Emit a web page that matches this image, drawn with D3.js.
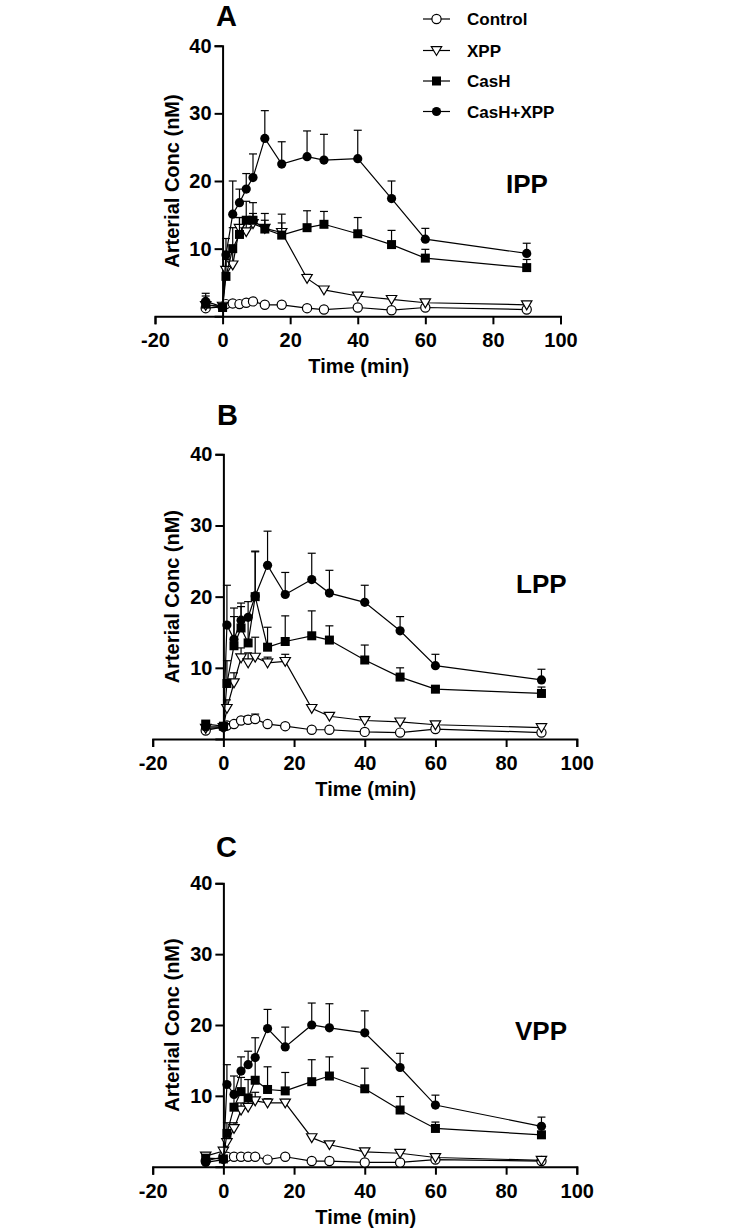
<!DOCTYPE html>
<html>
<head>
<meta charset="utf-8">
<script src="https://cdn.jsdelivr.net/npm/d3@7"></script>
<style>
  html, body { margin: 0; padding: 0; background: #fff; }
  svg text { font-family: "Liberation Sans", Arial, sans-serif; font-weight: bold; fill: #000; }
</style>
</head>
<body>
<svg id="chart" width="733" height="1230"></svg>
<script>
// ---------------- DATA ----------------
const times = [-5, 0, 1, 3, 5, 7, 9, 12.5, 17.5, 25, 30, 40, 50, 60, 90];
const seriesNames = ["Control", "XPP", "CasH", "CasH+XPP"];
const panelLetters = ["A", "B", "C"];
const regionNames = ["IPP", "LPP", "VPP"];
const xTicks = [-20, 0, 20, 40, 60, 80, 100];
const yTicks = [10, 20, 30, 40];

// IPP (panel A)
const ippControl    = [1.2, 1.4, 1.8, 1.9, 1.8, 2.0, 2.2, 1.7, 1.7, 1.2, 1.0, 1.3, 0.9, 1.3, 1.0];
const ippControlSE  = [0.3, 0.2, 0.2, 0.2, 0.2, 0.2, 0.3, 0.2, 0.2, 0.2, 0.2, 0.2, 0.2, 0.2, 0.2];
const ippXPP        = [1.6, 1.5, 6.8, 7.6, 13.0, 12.5, 13.7, 13.0, 12.4, 5.6, 3.9, 3.0, 2.5, 2.0, 1.7];
const ippXPPSE      = [0.4, 0.3, 1.8, 2.0, 1.6, 2.0, 1.5, 1.2, 1.4, 0.6, 0.4, 0.3, 0.3, 0.3, 0.3];
const ippCasH       = [1.8, 1.3, 5.9, 10.0, 12.1, 14.2, 14.2, 12.9, 12.0, 13.1, 13.6, 12.2, 10.6, 8.6, 7.2];
const ippCasHSE     = [1.2, 0.3, 2.5, 3.1, 2.5, 2.8, 2.6, 2.3, 3.1, 2.5, 1.9, 2.4, 2.1, 1.3, 1.2];
const ippCasHXPP    = [2.2, 1.4, 9.1, 15.1, 16.8, 18.8, 20.5, 26.3, 22.5, 23.6, 23.1, 23.3, 17.4, 11.4, 9.3];
const ippCasHXPPSE  = [1.2, 0.3, 2.4, 4.9, 2.0, 2.3, 3.5, 4.1, 3.3, 3.8, 3.8, 4.2, 2.6, 1.6, 1.5];

// LPP (panel B)
const lppControl    = [1.2, 1.7, 1.9, 2.1, 2.6, 2.7, 2.8, 2.1, 1.8, 1.3, 1.3, 1.0, 0.9, 1.4, 0.9];
const lppControlSE  = [0.2, 0.2, 0.2, 0.3, 0.4, 0.5, 0.7, 0.3, 0.2, 0.2, 0.2, 0.2, 0.2, 0.2, 0.2];
const lppXPP        = [1.5, 1.6, 4.3, 7.9, 11.4, 10.7, 11.5, 10.7, 10.9, 4.3, 3.2, 2.6, 2.4, 2.0, 1.6];
const lppXPPSE      = [0.3, 0.3, 1.2, 1.4, 1.4, 1.4, 2.8, 0.8, 1.0, 0.4, 0.3, 0.3, 0.3, 0.3, 0.3];
const lppCasH       = [2.1, 1.8, 7.8, 13.1, 15.6, 13.5, 20.0, 12.9, 13.7, 14.5, 13.9, 11.1, 8.7, 7.0, 6.4];
const lppCasHSE     = [0.3, 0.3, 3.2, 4.1, 3.0, 3.3, 6.3, 2.8, 3.6, 3.5, 2.0, 2.1, 1.3, 0.3, 0.9];
const lppCasHXPP    = [1.7, 1.7, 16.0, 14.0, 16.7, 17.1, 20.1, 24.4, 20.3, 22.4, 20.5, 19.2, 15.2, 10.3, 8.3];
const lppCasHXPPSE  = [0.3, 0.3, 5.6, 4.4, 2.4, 2.2, 6.3, 4.8, 3.1, 3.7, 3.2, 2.4, 2.0, 1.6, 1.5];

// VPP (panel C)
const vppControl    = [0.8, 1.4, 1.4, 1.4, 1.4, 1.4, 1.4, 1.0, 1.4, 0.8, 0.8, 0.6, 0.6, 1.0, 0.8];
const vppControlSE  = [0.2, 0.2, 0.2, 0.2, 0.2, 0.2, 0.2, 0.2, 0.2, 0.2, 0.2, 0.2, 0.2, 0.2, 0.2];
const vppXPP        = [1.5, 2.2, 3.4, 5.4, 8.0, 8.4, 9.3, 9.0, 9.0, 4.1, 3.1, 2.1, 1.9, 1.3, 0.9];
const vppXPPSE      = [0.3, 0.4, 0.6, 0.8, 1.0, 1.0, 1.2, 0.6, 0.5, 0.4, 0.3, 0.3, 0.3, 0.3, 0.2];
const vppCasH       = [1.2, 1.1, 4.7, 8.4, 10.6, 9.7, 12.2, 10.9, 10.7, 12.0, 12.8, 11.0, 8.0, 5.4, 4.5];
const vppCasHSE     = [0.3, 0.3, 1.5, 2.1, 2.0, 2.6, 3.2, 3.2, 2.6, 3.1, 2.7, 2.9, 1.9, 0.9, 0.3];
const vppCasHXPP    = [0.6, 1.0, 11.6, 10.2, 13.5, 14.4, 15.4, 19.5, 16.9, 20.0, 19.6, 18.9, 14.0, 8.7, 5.7];
const vppCasHXPPSE  = [0.2, 0.2, 2.8, 2.6, 2.0, 1.9, 2.8, 2.7, 2.8, 3.1, 3.4, 3.1, 2.0, 1.4, 1.3];

// ---------------- LAYOUT ----------------
const panelData = [
  { means: [ippControl, ippXPP, ippCasH, ippCasHXPP], errs: [ippControlSE, ippXPPSE, ippCasHSE, ippCasHXPPSE] },
  { means: [lppControl, lppXPP, lppCasH, lppCasHXPP], errs: [lppControlSE, lppXPPSE, lppCasHSE, lppCasHXPPSE] },
  { means: [vppControl, vppXPP, vppCasH, vppCasHXPP], errs: [vppControlSE, vppXPPSE, vppCasHSE, vppCasHXPPSE] }
];
const panelLayout = [
  { x0: 155, x1: 560.5, yBot: 316.3, yTop: 45.7, letterX: 216, letterY: 26, regX: 506, regY: 193 },
  { x0: 152.7, x1: 576.8, yBot: 739, yTop: 454.3, letterX: 217, letterY: 425, regX: 516, regY: 593 },
  { x0: 152.7, x1: 576.8, yBot: 1166.7, yTop: 883.3, letterX: 216, letterY: 857, regX: 515, regY: 1040 }
];

const svg = d3.select("#chart");

function drawMarker(g, type, cx, cy) {
  if (type === 0) {
    g.append("circle").attr("cx", cx).attr("cy", cy).attr("r", 4.6)
      .attr("fill", "#fff").attr("stroke", "#000").attr("stroke-width", 1.2);
  } else if (type === 1) {
    const s = 5.2;
    g.append("path")
      .attr("d", `M${cx - s},${cy - s * 0.75} L${cx + s},${cy - s * 0.75} L${cx},${cy + s * 0.95} Z`)
      .attr("fill", "#fff").attr("stroke", "#000").attr("stroke-width", 1.2);
  } else if (type === 2) {
    g.append("rect").attr("x", cx - 4.5).attr("y", cy - 4.5).attr("width", 9).attr("height", 9)
      .attr("fill", "#000");
  } else {
    g.append("circle").attr("cx", cx).attr("cy", cy).attr("r", 4.6).attr("fill", "#000");
  }
}

panelData.forEach((pd, pi) => {
  const L = panelLayout[pi];
  const x = d3.scaleLinear().domain([-20, 100]).range([L.x0, L.x1]);
  const y = d3.scaleLinear().domain([0, 40]).range([L.yBot, L.yTop]);
  const g = svg.append("g");

  // axes
  const xAxis = g.append("g").attr("transform", `translate(0,${y(0)})`)
    .call(d3.axisBottom(x).tickValues(xTicks).tickFormat(d => String(d))
      .tickSizeOuter(0).tickSize(8).tickPadding(4));
  const yAxis = g.append("g").attr("transform", `translate(${x(0)},0)`)
    .call(d3.axisLeft(y).tickValues(yTicks).tickFormat(d => String(d))
      .tickSizeOuter(0).tickSize(8).tickPadding(3));
  [xAxis, yAxis].forEach(a => {
    a.select(".domain").attr("stroke", "#000").attr("stroke-width", 2);
    a.selectAll(".tick line").attr("stroke", "#000").attr("stroke-width", 2);
    a.selectAll(".tick text").attr("font-size", 20).attr("fill", "#000")
      .style("font-family", '"Liberation Sans", Arial, sans-serif').style("font-weight", "bold");
  });
  xAxis.selectAll(".tick text").attr("dy", "0.95em");

  // axis titles
  g.append("text").attr("x", (x(-20) + x(100)) / 2 + 1).attr("y", y(0) + 57)
    .attr("text-anchor", "middle").attr("font-size", 20).text("Time (min)");
  g.append("text").attr("transform", `translate(179,${(y(0) + y(40)) / 2}) rotate(-90)`)
    .attr("text-anchor", "middle").attr("font-size", 20).text("Arterial Conc (nM)");

  // panel letter & region label
  g.append("text").attr("x", L.letterX).attr("y", L.letterY).attr("font-size", 29).text(panelLetters[pi]);
  g.append("text").attr("x", L.regX).attr("y", L.regY).attr("font-size", 26).text(regionNames[pi]);

  const line = d3.line().x((d, i) => x(times[i])).y(d => y(d));

  pd.means.forEach((vals, si) => {
    const sg = g.append("g");
    sg.append("path").attr("d", line(vals)).attr("fill", "none")
      .attr("stroke", "#000").attr("stroke-width", 1.2);
    // upper error bars
    vals.forEach((v, i) => {
      const e = pd.errs[si][i];
      const cx = x(times[i]);
      sg.append("line").attr("x1", cx).attr("x2", cx).attr("y1", y(v)).attr("y2", y(v + e))
        .attr("stroke", "#000").attr("stroke-width", 1.2);
      sg.append("line").attr("x1", cx - 4).attr("x2", cx + 4).attr("y1", y(v + e)).attr("y2", y(v + e))
        .attr("stroke", "#000").attr("stroke-width", 1.2);
    });
    vals.forEach((v, i) => drawMarker(sg, si, x(times[i]), y(v)));
  });
});

// legend
const legendRows = [19, 50.5, 81, 111.5];
const lg = svg.append("g");
seriesNames.forEach((name, i) => {
  const yy = legendRows[i];
  lg.append("line").attr("x1", 423).attr("x2", 450).attr("y1", yy).attr("y2", yy)
    .attr("stroke", "#000").attr("stroke-width", 1.2);
  drawMarker(lg, i, 436.5, yy);
  lg.append("text").attr("x", 467).attr("y", yy).attr("dy", "0.36em")
    .attr("font-size", 17).text(name);
});
</script>
</body>
</html>
